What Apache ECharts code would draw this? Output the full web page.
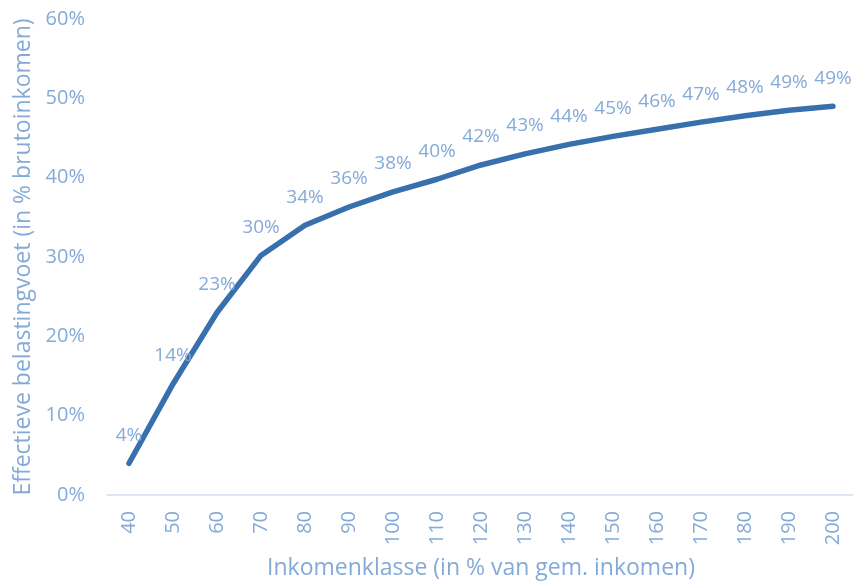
<!DOCTYPE html>
<html>
<head>
<meta charset="utf-8">
<script src="https://cdn.jsdelivr.net/npm/echarts@6/dist/echarts.min.js"></script>
<style>
  html, body { margin: 0; padding: 0; background: #fff; }
  #chart { width: 853px; height: 584px; }
</style>
</head>
<body>
<div id="chart"></div>
<script>
// income class (% of average income)
const categories = ["40", "50", "60", "70", "80", "90", "100", "110", "120", "130", "140", "150", "160", "170", "180", "190", "200"];
// effective tax rate (% of gross income)
const rates = [4.0, 14.0, 23.0, 30.2, 34.0, 36.3, 38.2, 39.8, 41.6, 43.0, 44.2, 45.2, 46.1, 47.0, 47.8, 48.5, 49.0];
const yTicks = [0, 10, 20, 30, 40, 50, 60];

const textColor = "#84aad8";
const font = "Open Sans";

const chart = echarts.init(document.getElementById("chart"));

chart.setOption({
  animation: false,
  grid: { left: 107, top: 19, width: 748, bottom: 89, outerBoundsMode: "none", containLabel: false },
  xAxis: {
    type: "category",
    data: categories,
    boundaryGap: true,
    name: "Inkomenklasse (in % van gem. inkomen)",
    nameLocation: "middle",
    nameGap: 62,
    nameTextStyle: { color: textColor, fontFamily: font, fontSize: 23 },
    axisLine: { lineStyle: { color: "#dde7f3", width: 2 } },
    axisTick: { show: false },
    axisLabel: { rotate: 90, margin: 16, color: textColor, fontFamily: font, fontSize: 20 },
  },
  yAxis: {
    type: "value",
    min: yTicks[0],
    max: yTicks[yTicks.length - 1],
    interval: 10,
    name: "Effectieve belastingvoet (in % brutoinkomen)",
    nameLocation: "middle",
    nameGap: 66,
    nameTextStyle: { color: textColor, fontFamily: font, fontSize: 23 },
    splitLine: { show: false },
    axisLine: { show: false },
    axisTick: { show: false },
    axisLabel: {
      margin: 22,
      color: textColor,
      fontFamily: font,
      fontSize: 20,
      formatter: (v) => v + "%",
    },
  },
  series: [
    {
      type: "line",
      data: rates,
      symbol: "circle",
      symbolSize: 1,
      showSymbol: true,
      itemStyle: { color: "rgba(0,0,0,0)" },
      lineStyle: { color: "#3870ae", width: 5.5, cap: "round", join: "round" },
      label: {
        show: true,
        position: "top",
        distance: 18,
        color: textColor,
        fontFamily: font,
        fontSize: 19,
        formatter: (p) => Math.round(p.value) + "%",
      },
    },
  ],
});
</script>
</body>
</html>
